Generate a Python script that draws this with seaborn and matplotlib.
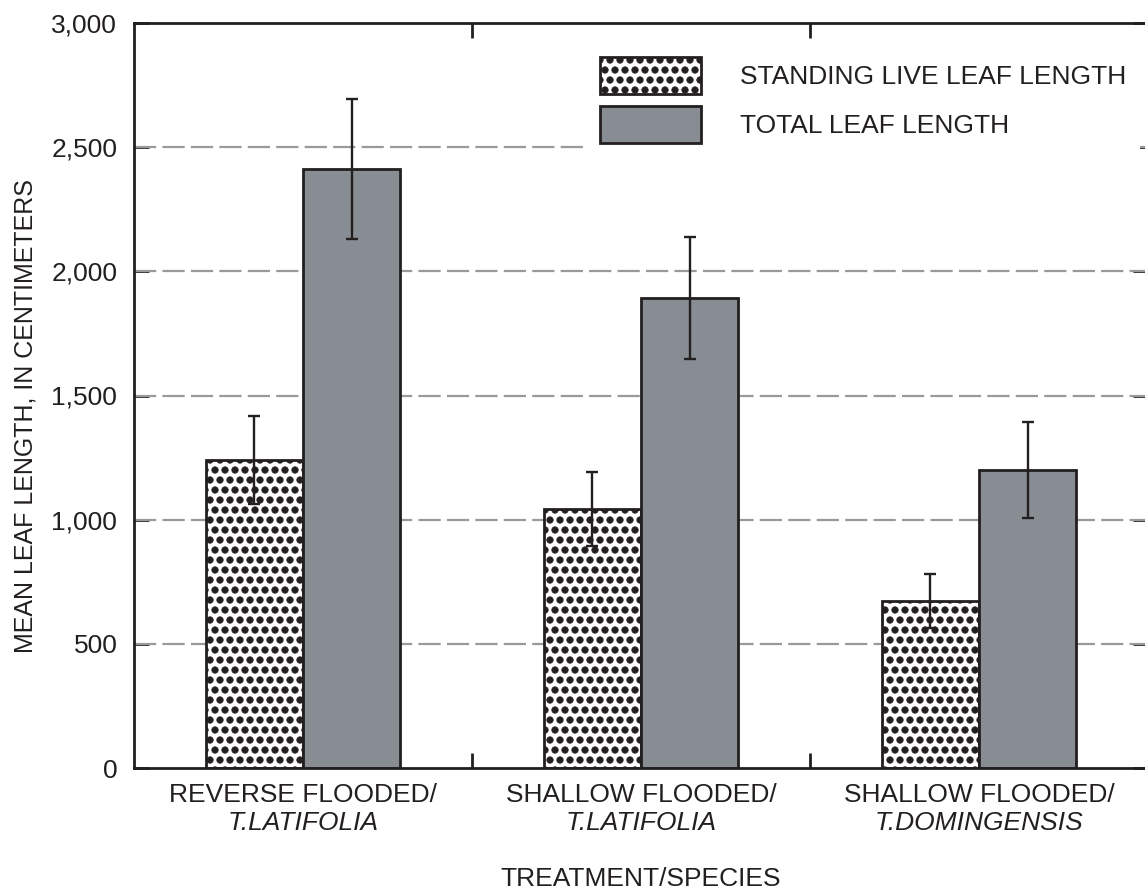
import numpy as np
import pandas as pd
import matplotlib
matplotlib.use("Agg")
import matplotlib.pyplot as plt
import matplotlib.hatch
import matplotlib.ticker as mticker
from matplotlib.transforms import offset_copy
import seaborn as sns

# data
treatments = ["REVERSE FLOODED/", "SHALLOW FLOODED/", "SHALLOW FLOODED/"]
species = ["T.LATIFOLIA", "T.LATIFOLIA", "T.DOMINGENSIS"]
series_names = ["STANDING LIVE LEAF LENGTH", "TOTAL LEAF LENGTH"]
standing_live = [1240, 1043, 672]
standing_live_err = [176, 150, 110]
total_leaf = [2412, 1893, 1200]
total_leaf_err = [280, 247, 195]
y_ticks = [0, 500, 1000, 1500, 2000, 2500, 3000]

sns.set_theme(style="white")
ink = "#231f20"
gray_fill = "#878d93"
plt.rcParams['font.family'] = ['Liberation Sans', 'DejaVu Sans']
plt.rcParams['hatch.linewidth'] = 0.6
plt.rcParams['hatch.color'] = 'black'
plt.rcParams['text.color'] = ink
plt.rcParams['axes.labelcolor'] = ink


# coarser, bigger dots for the stipple fill ('.' hatch)
class Stipple(matplotlib.hatch.Circles):
    size = 0.32
    filled = True

    def __init__(self, hatch, density):
        self.num_rows = hatch.count('.') * 5
        super().__init__(hatch, density)


matplotlib.hatch._hatch_types = [Stipple if t is matplotlib.hatch.SmallFilledCircles else t
                                 for t in matplotlib.hatch._hatch_types]

groups = [t + s for t, s in zip(treatments, species)]
df = pd.DataFrame({
    'group': groups * 2,
    'series': [series_names[0]] * 3 + [series_names[1]] * 3,
    'value': standing_live + total_leaf,
})
errs = [standing_live_err, total_leaf_err]

fig = plt.figure(figsize=(11.45, 8.92), dpi=100)
ax = fig.add_axes([134 / 1145, 124 / 892, 1014 / 1145, 745 / 892])

sns.barplot(data=df, x='group', y='value', hue='series', order=groups,
            hue_order=series_names, palette=['white', gray_fill],
            width=0.575, edgecolor=ink, linewidth=2, saturation=1,
            errorbar=None, legend=False, ax=ax, zorder=2)

# stipple on the standing live bars
for p in ax.containers[0].patches:
    p.set_hatch('..')

# error bars
for cont, err in zip(ax.containers, errs):
    xs = [p.get_x() + p.get_width() / 2 for p in cont.patches]
    hs = [p.get_height() for p in cont.patches]
    ax.errorbar(xs, hs, yerr=err, fmt='none', ecolor=ink, elinewidth=1.7,
                capsize=4, capthick=1.7, zorder=3)

# dashed grid
for yv in y_ticks[1:-1]:
    ax.axhline(yv, color='#9a9a9a', lw=1.6, dashes=(10, 2.8), zorder=1)

ax.set_ylim(0, 3000)
ax.set_xlim(-0.5, 2.5)
ax.set_yticks(y_ticks)
ax.yaxis.set_major_formatter(mticker.FuncFormatter(lambda v, _: f"{int(v):,}"))
ax.tick_params(axis='y', direction='in', length=11, width=2, color=ink,
               left=True, right=True, labelsize=19, labelcolor=ink, pad=12)

ax.set_xticks(range(len(groups)))
ax.set_xticklabels(treatments)
ax.set_xticks([0.5, 1.5], minor=True)
ax.tick_params(axis='x', which='major', length=0, labelsize=19,
               labelcolor=ink, pad=11)
ax.tick_params(axis='x', which='minor', direction='in', length=11, width=2,
               color=ink, top=True, bottom=True)

# italic species line under each treatment
tr = offset_copy(ax.get_xaxis_transform(), fig=fig, x=0, y=-31, units='points')
for i, s in enumerate(species):
    ax.text(i, 0, s, transform=tr, ha='center', va='top', fontsize=19,
            style='italic', color=ink)

for sp in ax.spines.values():
    sp.set_color(ink)
    sp.set_linewidth(2)

ax.set_xlabel("TREATMENT/SPECIES", fontsize=19, labelpad=43)
ax.set_ylabel("MEAN LEAF LENGTH, IN CENTIMETERS", fontsize=18)
ax.yaxis.set_label_coords(-0.095, 0.472)

leg = ax.legend(ax.containers, series_names, loc='upper left',
                bbox_to_anchor=(0.447, 0.972), fontsize=19,
                handlelength=3.8, handleheight=1.78, handletextpad=1.5,
                labelspacing=0.45, borderpad=0.5, borderaxespad=0,
                frameon=True, fancybox=False, facecolor='white',
                edgecolor='none', framealpha=1)
leg.set_zorder(5)
for h in leg.legend_handles:
    h.set_linewidth(2)

fig.savefig('out.png', dpi=100)
